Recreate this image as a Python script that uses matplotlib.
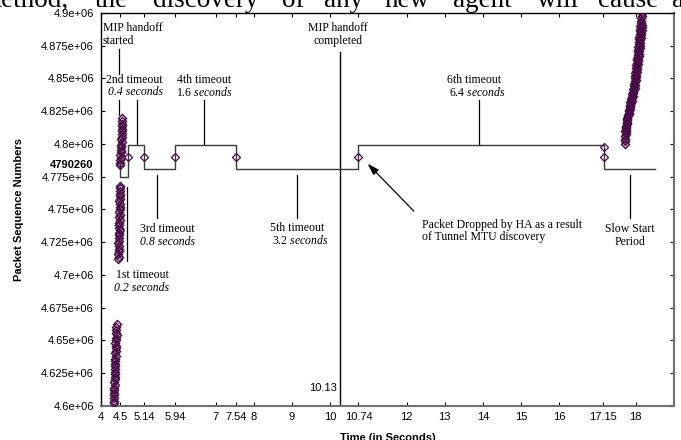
import matplotlib
matplotlib.use("Agg")
import matplotlib.pyplot as plt
import matplotlib.transforms as mtransforms

plt.rcParams["font.family"] = ["Liberation Sans", "DejaVu Sans"]
plt.rcParams["mathtext.fontset"] = "custom"
plt.rcParams["mathtext.rm"] = "Liberation Serif"
plt.rcParams["mathtext.it"] = "Liberation Serif:italic"

# packets received before the handoff (time s, seq in thousands)
burst1_t = [4.33, 4.34, 4.33, 4.34, 4.35, 4.34, 4.35, 4.36, 4.35, 4.36, 4.37, 4.36, 4.37, 4.38, 4.37, 4.38,
            4.37, 4.38, 4.39, 4.38, 4.39, 4.40, 4.39, 4.38, 4.39, 4.40, 4.41, 4.40, 4.39, 4.40, 4.41]
burst1_k = [4602.0, 4604.1, 4606.0, 4608.2, 4610.1, 4612.3, 4614.0, 4616.2, 4618.1, 4620.3, 4622.0, 4624.2,
            4626.1, 4628.0, 4630.2, 4632.1, 4634.3, 4636.0, 4638.2, 4640.1, 4642.0, 4644.2, 4646.1, 4648.3,
            4650.0, 4652.2, 4654.1, 4656.0, 4658.2, 4660.1, 4662.4]
burst2_t = [4.46, 4.47, 4.46, 4.47, 4.48, 4.47, 4.46, 4.47, 4.48, 4.47, 4.48, 4.49, 4.48, 4.47, 4.48,
            4.49, 4.48, 4.49, 4.48, 4.49, 4.50, 4.49, 4.48, 4.49, 4.50, 4.49, 4.50, 4.49, 4.50]
burst2_k = [4712.2, 4714.1, 4716.0, 4718.2, 4720.1, 4722.0, 4724.2, 4726.1, 4728.0, 4730.2, 4732.1, 4734.0,
            4736.2, 4738.1, 4740.0, 4742.2, 4744.1, 4746.0, 4748.2, 4750.1, 4752.0, 4754.2, 4756.1, 4758.0,
            4760.2, 4762.1, 4764.0, 4766.2, 4768.0]
burst3_t = [4.51, 4.50, 4.51, 4.52, 4.51, 4.52, 4.53, 4.52, 4.53, 4.54, 4.53, 4.54, 4.55, 4.54, 4.55,
            4.56, 4.55, 4.56, 4.55]
burst3_k = [4783.6, 4785.6, 4787.5, 4789.6, 4791.5, 4793.6, 4795.5, 4797.6, 4799.5, 4801.6, 4803.5,
            4805.6, 4807.5, 4809.6, 4811.5, 4813.6, 4815.5, 4817.6, 4819.5]
# slow start after the tunnel path is up
slow_t = [17.72, 17.71, 17.73, 17.72, 17.74, 17.73, 17.75, 17.74, 17.76, 17.77, 17.78, 17.80, 17.81,
          17.82, 17.84, 17.85, 17.86, 17.88, 17.89, 17.91, 17.92, 17.93, 17.95, 17.96, 17.97, 17.97,
          17.98, 17.99, 18.00, 18.00, 18.01, 18.02, 18.03, 18.04, 18.05, 18.05, 18.06, 18.07, 18.08,
          18.08, 18.09, 18.09, 18.10, 18.11, 18.11, 18.12, 18.13, 18.13, 18.14, 18.15, 18.15]
slow_k = [4800.0, 4802.0, 4804.0, 4806.0, 4808.0, 4810.0, 4812.0, 4814.0, 4816.0, 4818.0, 4820.0,
          4822.0, 4824.0, 4826.0, 4828.0, 4830.0, 4832.0, 4834.0, 4836.0, 4838.0, 4840.0, 4842.0,
          4844.0, 4846.0, 4848.0, 4850.0, 4852.0, 4854.0, 4856.0, 4858.0, 4860.0, 4862.0, 4864.0,
          4866.0, 4868.0, 4870.0, 4872.0, 4874.0, 4876.0, 4878.0, 4880.0, 4882.0, 4884.0, 4886.0,
          4888.0, 4890.0, 4892.0, 4894.0, 4896.0, 4898.0, 4900.0]
slow2_t = [17.74, 17.74, 17.75, 17.76, 17.77, 17.78, 17.79, 17.81, 17.83, 17.84, 17.86, 17.87, 17.89,
           17.90, 17.92, 17.94, 17.95, 17.97, 17.98, 17.99, 18.00, 18.01, 18.01, 18.02, 18.03, 18.04,
           18.05, 18.06, 18.07, 18.08, 18.08, 18.09, 18.10, 18.11, 18.11, 18.12, 18.13, 18.13, 18.14,
           18.15, 18.16, 18.16]
slow2_k = [4809.0, 4811.0, 4813.0, 4815.0, 4817.0, 4819.0, 4821.0, 4823.0, 4825.0, 4827.0, 4829.0,
           4831.0, 4833.0, 4835.0, 4837.0, 4839.0, 4841.0, 4843.0, 4845.0, 4847.0, 4849.0, 4851.0,
           4853.0, 4855.0, 4857.0, 4859.0, 4861.0, 4863.0, 4865.0, 4867.0, 4869.0, 4871.0, 4873.0,
           4875.0, 4877.0, 4879.0, 4881.0, 4883.0, 4885.0, 4887.0, 4889.0, 4891.0]

# retransmissions of the dropped packet
lost_seq = 4790260
retx_t = [4.72, 5.13, 5.94, 7.54, 10.74, 17.17]
extra_t, extra_seq = 17.17, 4798000

# timeout bracket (time, seq)
brk_t = [4.51, 4.51, 4.72, 4.72, 5.13, 5.13, 5.94, 5.94, 7.54, 7.54, 10.74, 10.74, 17.17, 17.17, 18.51]
brk_seq = [4783600, 4775000, 4775000, 4799500, 4799500, 4780700, 4780700, 4799500, 4799500,
           4780700, 4780700, 4799500, 4799500, 4780700, 4780700]

handoff_done_t = 10.26
xtick_vals = [4, 4.5, 5.14, 5.94, 7, 7.54, 8, 9, 10, 10.74, 12, 13, 14, 15, 16, 17.15, 18]
xtick_labels = ["4", "4.5", "5.14", "5.94", "7", "7.54", "8", "9", "10", "10.74", "12", "13", "14",
                "15", "16", "17.15", "18"]
ytick_vals = [4600000 + 25000 * i for i in range(13)]
ytick_labels = ["4.6e+06", "4.625e+06", "4.65e+06", "4.675e+06", "4.7e+06", "4.725e+06", "4.75e+06",
                "4.775e+06", "4.8e+06", "4.825e+06", "4.85e+06", "4.875e+06", "4.9e+06"]

purple = "#470c45"
serif = "Liberation Serif"
fs = 8.5

fig = plt.figure(figsize=(6.81, 4.40), dpi=100)
ax = fig.add_axes([0.1482, 0.0773, 0.8415, 0.8932])

mk = dict(marker="D", ms=3.6, mfc="none", mec=purple, mew=1.05, ls="none", zorder=4)
for tt, kk in [(burst1_t, burst1_k), (burst2_t, burst2_k), (burst3_t, burst3_k),
               (slow_t, slow_k), (slow2_t, slow2_k)]:
    ax.plot(tt, [k * 1000 for k in kk], **mk)
ax.plot(retx_t, [lost_seq] * len(retx_t), **dict(mk, mew=0.9))
ax.plot([extra_t], [extra_seq], **dict(mk, mew=0.9))

ax.plot(brk_t, brk_seq, color="#3a3a3a", lw=1.0, zorder=3)

# leader lines
lc = dict(color="black", lw=0.9, zorder=2)
ax.plot([4.48, 4.48], [4872500, 4853400], **lc)
ax.plot([4.48, 4.48], [4833600, 4822100], **lc)
for xl in [4.94, 6.71, 13.89]:
    ax.plot([xl, xl], [4833600, 4799500], **lc)
for xl in [5.48, 9.12, 17.84]:
    ax.plot([xl, xl], [4776300, 4743500], **lc)
ax.plot([4.69, 4.69], [4767200, 4711000], **lc)
ax.plot([handoff_done_t, handoff_done_t], [4870300, 4600000], color="black", lw=1.0, zorder=2)

ax.annotate("", xy=(10.93, 4786500), xytext=(12.24, 4747300),
            arrowprops=dict(arrowstyle="-|>,head_length=0.7,head_width=0.22", color="black", lw=0.9))

# annotation text
def note(x, y, s, **kw):
    kw.setdefault("ha", "center")
    ax.text(x, y, s, family=serif, fontsize=fs, va="center", **kw)

def px2x(p):
    return 4 + (p - 100.9) / 38.1

def px2y(p):
    return 4600000 + (406 - p) / 393 * 300000

note(px2x(102.7), px2y(28.3), "MIP handoff", ha="left")
note(px2x(102.7), px2y(40.7), "started", ha="left")
note(px2x(134.5), px2y(80), "2nd timeout")
note(px2x(135), px2y(92.3), "0.4 seconds", style="italic")
note(px2x(204), px2y(80), "4th timeout")
note(px2x(204), px2y(92.3), r"1.6 $\mathit{seconds}$")
note(px2x(167.5), px2y(229.3), "3rd timeout")
note(px2x(167), px2y(241.7), "0.8 seconds", style="italic")
note(px2x(142.3), px2y(275), "1st timeout")
note(px2x(141.7), px2y(288.3), "0.2 seconds", style="italic")
note(px2x(297), px2y(228.3), "5th timeout")
note(px2x(300), px2y(240.7), r"3.2 $\mathit{seconds}$")
note(px2x(337.5), px2y(28.3), "MIP handoff")
note(px2x(337.5), px2y(40.7), "completed")
note(px2x(473.5), px2y(80), "6th timeout")
note(px2x(476), px2y(92.3), r"6.4 $\mathit{seconds}$")
note(px2x(420.7), px2y(225), "Packet Dropped by HA as a result", ha="left")
note(px2x(420.7), px2y(237), "of Tunnel MTU discovery", ha="left")
note(px2x(628.7), px2y(229.3), "Slow Start")
note(px2x(629), px2y(241.7), "Period")
ax.text(px2x(336.5), px2y(388.3), "10.13", fontsize=8, ha="right", va="center")

ax.set_xlim(4, 19)
ax.set_ylim(4600000, 4900000)
ax.set_xticks(xtick_vals)
ax.set_xticklabels(xtick_labels)
ax.set_yticks(ytick_vals)
ax.set_yticklabels(ytick_labels)
ax.tick_params(direction="in", top=True, right=True, length=3, width=0.8, labelsize=8)
ax.tick_params(axis="y", pad=5)
ax.tick_params(axis="x", pad=4)

trans = mtransforms.blended_transform_factory(ax.transAxes, ax.transData)
ax.text(-0.0125, px2y(165), "4790260", transform=trans, ha="right", va="center",
        fontsize=8, fontweight="bold")

ax.set_ylabel("Packet Sequence Numbers", fontsize=8, fontweight="bold")
ax.yaxis.set_label_coords(-0.134, 0.5)
ax.set_xlabel("Time (in Seconds)", fontsize=8, fontweight="bold")
ax.xaxis.set_label_coords(0.5, -0.068)

for side in ["top", "left"]:
    ax.spines[side].set_color("black")
    ax.spines[side].set_linewidth(1.0)
for side in ["bottom", "right"]:
    ax.spines[side].set_color("#707070")
    ax.spines[side].set_linewidth(1.5)

# cropped line of the surrounding page text
words = ["method,", "the", "discovery", "of", "any", "new", "agent", "will", "cause", "an"]
word_x = [-20, 95, 153, 282, 324, 384, 453, 537, 598, 672]
for w, wx in zip(words, word_x):
    fig.text(wx / 681, 1 - 7 / 440, w, family=serif, fontsize=19.5, va="baseline", ha="left")

fig.savefig("out.png", dpi=100)
